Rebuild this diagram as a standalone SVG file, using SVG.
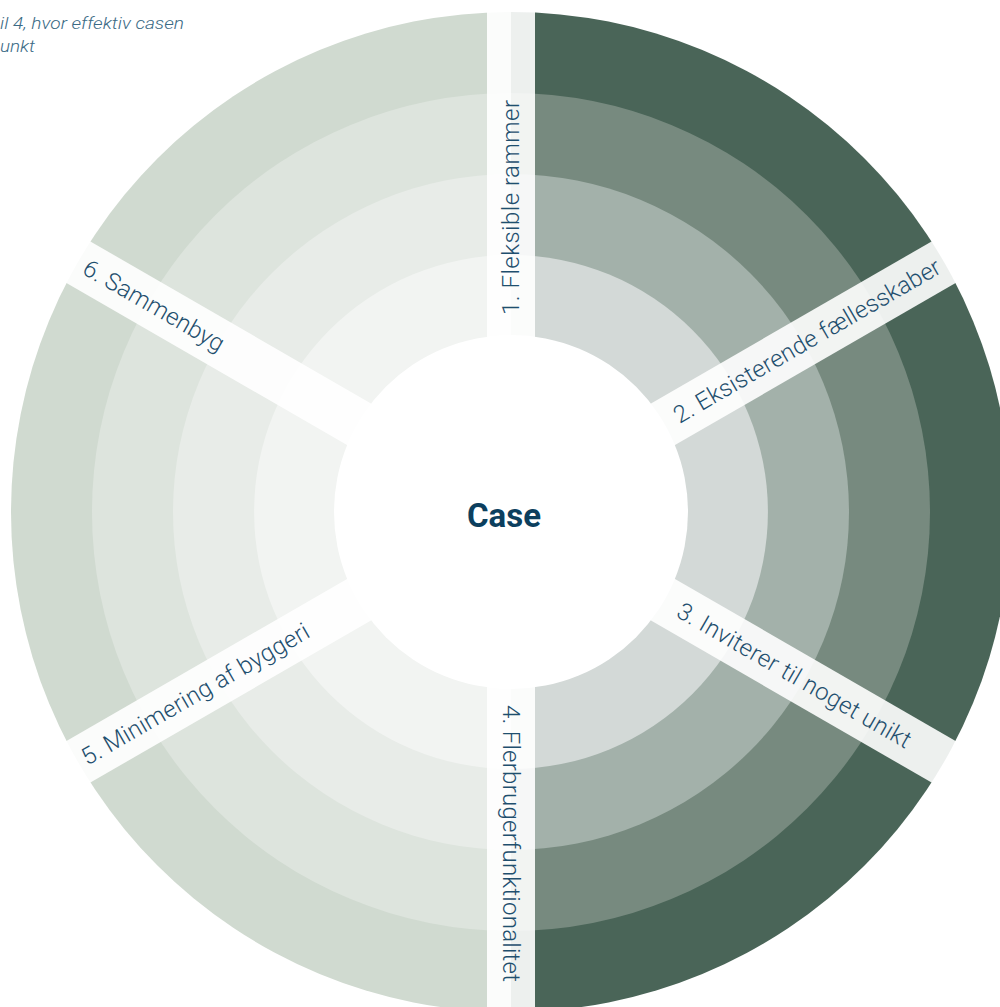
<svg xmlns="http://www.w3.org/2000/svg" width="1000" height="1007" viewBox="0 0 1000 1007">
  <style>
    .lbl { font-family: Roboto, "DejaVu Sans", sans-serif; font-weight: 300; font-size: 24px; fill: #1f4f6e; }
    .title { font-family: Roboto, "DejaVu Sans", sans-serif; font-weight: 300; font-style: italic; font-size: 16px; fill: #3a6a85; }
    .center { font-family: Roboto, "DejaVu Sans", sans-serif; font-weight: 700; font-size: 33px; fill: #0c3f5e; }
    .band { fill: #ffffff; fill-opacity: 0.9; }
  </style>
  <rect width="1000" height="1007" fill="#ffffff"/>
  <text class="title" x="0" y="29" textLength="184" lengthAdjust="spacingAndGlyphs">il 4, hvor effektiv casen</text>
  <text class="title" x="0" y="52" textLength="35" lengthAdjust="spacingAndGlyphs">unkt</text>

  <g id="sectors-dark">
    <path d="M511 12 A500 500 0 0 1 511 1012 Z" fill="#4a6558"/>
    <path d="M511 93 A419 419 0 0 1 511 931 Z" fill="#778a7f"/>
    <path d="M511 174 A338 338 0 0 1 511 850 Z" fill="#a3b1aa"/>
    <path d="M511 255 A257 257 0 0 1 511 769 Z" fill="#d3d9d7"/>
  </g>
  <g id="sectors-light">
    <path d="M511 12 A500 500 0 0 0 511 1012 Z" fill="#d0dad0"/>
    <path d="M511 93 A419 419 0 0 0 511 931 Z" fill="#dde4dd"/>
    <path d="M511 174 A338 338 0 0 0 511 850 Z" fill="#e8ece8"/>
    <path d="M511 255 A257 257 0 0 0 511 769 Z" fill="#f2f4f2"/>
  </g>
  <circle id="hub" cx="511" cy="512" r="177" fill="#ffffff"/>

  <g id="connectors">
    <rect class="band" x="170" y="-24" width="332" height="48" transform="translate(511 512) rotate(-90)"/>
    <rect class="band" x="170" y="-24" width="332" height="48" transform="translate(511 512) rotate(-30)"/>
    <rect class="band" x="170" y="-24" width="332" height="48" transform="translate(511 512) rotate(30)"/>
    <rect class="band" x="170" y="-24" width="332" height="48" transform="translate(511 512) rotate(90)"/>
    <rect class="band" x="170" y="-24" width="332" height="48" transform="translate(511 512) rotate(150)"/>
    <rect class="band" x="170" y="-24" width="332" height="48" transform="translate(511 512) rotate(210)"/>
  </g>

  <g id="node-1"><text class="lbl" x="197" y="8" textLength="215" transform="translate(511 512) rotate(-90)">1. Fleksible rammer</text></g>
  <g id="node-2"><text class="lbl" x="190" y="8" textLength="304" transform="translate(511 512) rotate(-30)">2. Eksisterende fællesskaber</text></g>
  <g id="node-3"><text class="lbl" x="194" y="8" textLength="266" transform="translate(511 512) rotate(30)">3. Inviterer til noget unikt</text></g>
  <g id="node-4"><text class="lbl" x="193" y="8" textLength="277" transform="translate(511 512) rotate(90)">4. Flerbrugerfunktionalitet</text></g>
  <g id="node-5"><text class="lbl" x="-494" y="8" textLength="259" transform="translate(511 512) rotate(-30)">5. Minimering af byggeri</text></g>
  <g id="node-6"><text class="lbl" x="-492" y="8" textLength="159" transform="translate(511 512) rotate(30)">6. Sammenbyg</text></g>
  <g id="node-case"><text class="center" x="504" y="527" text-anchor="middle">Case</text></g>
</svg>
